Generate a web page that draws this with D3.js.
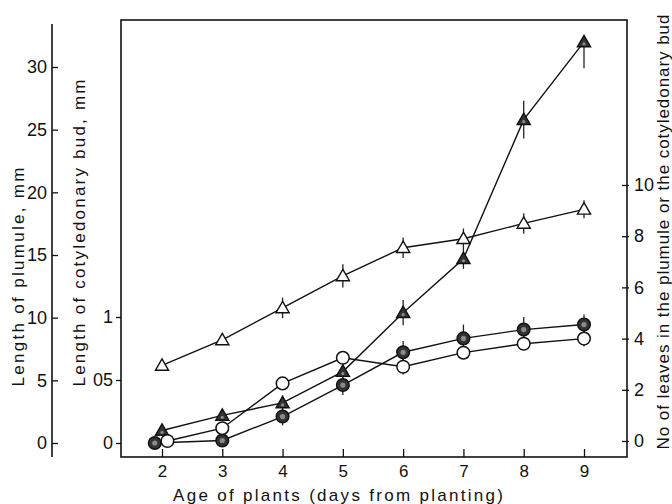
<!DOCTYPE html>
<html>
<head>
<meta charset="utf-8">
<script src="https://cdn.jsdelivr.net/npm/d3@7"></script>
<style>
  body { margin: 0; background: #fff; }
  svg { display: block; }
  text { font-family: "Liberation Sans", Arial, sans-serif; fill: #111; }
</style>
</head>
<body>
<svg></svg>
<script>
// age of plants, days from planting
let days = [2, 3, 4, 5, 6, 7, 8, 9]
// day 2 circles are drawn a little apart in the original
let budLengthDays = [1.88, 3, 4, 5, 6, 7, 8, 9]
let budLeavesDays = [2.09, 3, 4, 5, 6, 7, 8, 9]

// length of plumule, mm (filled triangles)
let plumuleLength = [1.0, 2.2, 3.2, 5.7, 10.4, 14.7, 25.8, 32.0]
let plumuleLengthErrUp = [0, 0.45, 0.6, 0.5, 1.0, 0.8, 1.5, 0]
let plumuleLengthErrDown = [0, 0.45, 0.6, 0.5, 1.0, 0.8, 1.5, 2.1]

// no of leaves in the plumule (open triangles)
let plumuleLeaves = [2.95, 3.95, 5.2, 6.45, 7.55, 7.9, 8.5, 9.05]
let plumuleLeavesErr = [0, 0, 0.4, 0.45, 0.4, 0.4, 0.4, 0.35]

// length of cotyledonary bud, mm (filled circles)
let budLength = [0, 0.02, 0.21, 0.46, 0.72, 0.83, 0.90, 0.94]
let budLengthErr = [0, 0, 0.07, 0.08, 0.09, 0.11, 0.1, 0.08]

// no of leaves in the cotyledonary bud (open circles)
let budLeaves = [0, 0.5, 2.25, 3.25, 2.9, 3.45, 3.8, 4.0]
let budLeavesErr = [0, 0, 0, 0, 0.3, 0.2, 0.25, 0.3]

let plumuleTicks = [0, 5, 10, 15, 20, 25, 30]
let budTicks = [0, 0.5, 1]
let budTickLabels = ['0', '05', '1']
let leavesTicks = [0, 2, 4, 6, 8, 10]

let w = 672
let h = 504
let box = { left: 121, right: 627, top: 20, bottom: 457 }

let svg = d3.select('svg').attr('width', w).attr('height', h)

let xScale = d3.scaleLinear().domain([2, 9]).range([162, 584])
let yPlumule = d3.scaleLinear().domain([0, 30]).range([443, 67])
let yBud = d3.scaleLinear().domain([0, 1]).range([443, 317])
let yLeaves = d3.scaleLinear().domain([0, 10]).range([441, 185])

let styleAxis = (g, size) => {
  g.select('.domain').remove()
  g.selectAll('line').attr('stroke', '#111').attr('stroke-width', 1.3)
  g.selectAll('text').style('font-size', size + 'px').attr('fill', '#111')
}

// plot frame
svg.append('rect')
  .attr('x', box.left).attr('y', box.top)
  .attr('width', box.right - box.left).attr('height', box.bottom - box.top)
  .attr('fill', 'none').attr('stroke', '#111').attr('stroke-width', 1.6)

// outer left axis: plumule length
svg.append('line')
  .attr('x1', 52).attr('x2', 52).attr('y1', 24).attr('y2', box.bottom)
  .attr('stroke', '#111').attr('stroke-width', 1.6)
svg.append('g')
  .attr('transform', 'translate(52,0)')
  .call(d3.axisLeft(yPlumule).tickValues(plumuleTicks).tickSizeInner(-6).tickSizeOuter(0).tickPadding(5))
  .call(g => styleAxis(g, 18))

// inner left axis: cotyledonary bud length
svg.append('g')
  .attr('transform', 'translate(' + box.left + ',0)')
  .call(d3.axisLeft(yBud).tickValues(budTicks).tickSize(5).tickPadding(3)
    .tickFormat((d, i) => budTickLabels[i]))
  .call(g => styleAxis(g, 18))

// right axis: number of leaves
svg.append('g')
  .attr('transform', 'translate(' + box.right + ',0)')
  .call(d3.axisRight(yLeaves).tickValues(leavesTicks).tickSizeInner(-5).tickSizeOuter(0).tickPadding(7))
  .call(g => styleAxis(g, 18))
  .call(g => g.selectAll('line').attr('x1', 2))

// bottom axis
svg.append('g')
  .attr('transform', 'translate(0,' + box.bottom + ')')
  .call(d3.axisBottom(xScale).tickValues(days).tickSizeInner(-8).tickSizeOuter(0).tickPadding(8)
    .tickFormat(d3.format('d')))
  .call(g => styleAxis(g, 17))

// axis titles
svg.append('text')
  .attr('transform', 'translate(338,501)')
  .attr('text-anchor', 'middle')
  .attr('textLength', 330).attr('lengthAdjust', 'spacing')
  .style('font-size', '17px')
  .text('Age of plants (days from planting)')

svg.append('text')
  .attr('transform', 'translate(24,277) rotate(-90)')
  .attr('text-anchor', 'middle')
  .attr('textLength', 219).attr('lengthAdjust', 'spacing')
  .style('font-size', '17px')
  .text('Length of plumule, mm')

svg.append('text')
  .attr('transform', 'translate(85,233) rotate(-90)')
  .attr('text-anchor', 'middle')
  .attr('textLength', 307).attr('lengthAdjust', 'spacing')
  .style('font-size', '17px')
  .text('Length of cotyledonary bud, mm')

svg.append('text')
  .attr('transform', 'translate(669,232) rotate(-90)')
  .attr('text-anchor', 'middle')
  .attr('textLength', 435).attr('lengthAdjust', 'spacing')
  .style('font-size', '17px')
  .text('No of leaves in the plumule or the cotyledonary bud')

let series = [
  { xs: days, ys: plumuleLength, up: plumuleLengthErrUp, down: plumuleLengthErrDown, y: yPlumule, shape: 'triangle', filled: true },
  { xs: days, ys: plumuleLeaves, up: plumuleLeavesErr, down: plumuleLeavesErr, y: yLeaves, shape: 'triangle', filled: false },
  { xs: budLengthDays, ys: budLength, up: budLengthErr, down: budLengthErr, y: yBud, shape: 'circle', filled: true },
  { xs: budLeavesDays, ys: budLeaves, up: budLeavesErr, down: budLeavesErr, y: yLeaves, shape: 'circle', filled: false }
]

let line = d3.line()

// lines and error bars first
series.forEach(s => {
  let pts = s.xs.map((d, i) => [xScale(d), s.y(s.ys[i])])
  svg.append('path')
    .attr('d', line(pts))
    .attr('fill', 'none').attr('stroke', '#111').attr('stroke-width', 1.4)

  svg.selectAll(null)
    .data(s.ys)
    .enter()
    .append('line')
    .attr('x1', (d, i) => xScale(s.xs[i]))
    .attr('x2', (d, i) => xScale(s.xs[i]))
    .attr('y1', (d, i) => s.y(d + s.up[i]))
    .attr('y2', (d, i) => s.y(d - s.down[i]))
    .attr('stroke', '#222').attr('stroke-width', 1.3)
})

// markers on top
let triangle = d3.symbol().type(d3.symbolTriangle).size(75)
series.forEach(s => {
  let g = svg.append('g')
  s.ys.forEach((d, i) => {
    let cx = xScale(s.xs[i])
    let cy = s.y(d)
    if (s.shape == 'circle') {
      g.append('circle')
        .attr('cx', cx).attr('cy', cy).attr('r', 6.3)
        .attr('fill', s.filled ? '#333' : '#fff')
        .attr('stroke', '#111').attr('stroke-width', 1.5)
      if (s.filled) {
        g.append('circle').attr('cx', cx).attr('cy', cy).attr('r', 2.6).attr('fill', '#8a8a8a')
      }
    } else {
      g.append('path')
        .attr('d', triangle())
        .attr('transform', 'translate(' + cx + ',' + (cy + 1) + ')')
        .attr('fill', s.filled ? '#333' : '#fff')
        .attr('stroke', '#111').attr('stroke-width', 1.4)
      if (s.filled) {
        g.append('circle').attr('cx', cx).attr('cy', cy + 2).attr('r', 1.6).attr('fill', '#8a8a8a')
      }
    }
  })
})
</script>
</body>
</html>
